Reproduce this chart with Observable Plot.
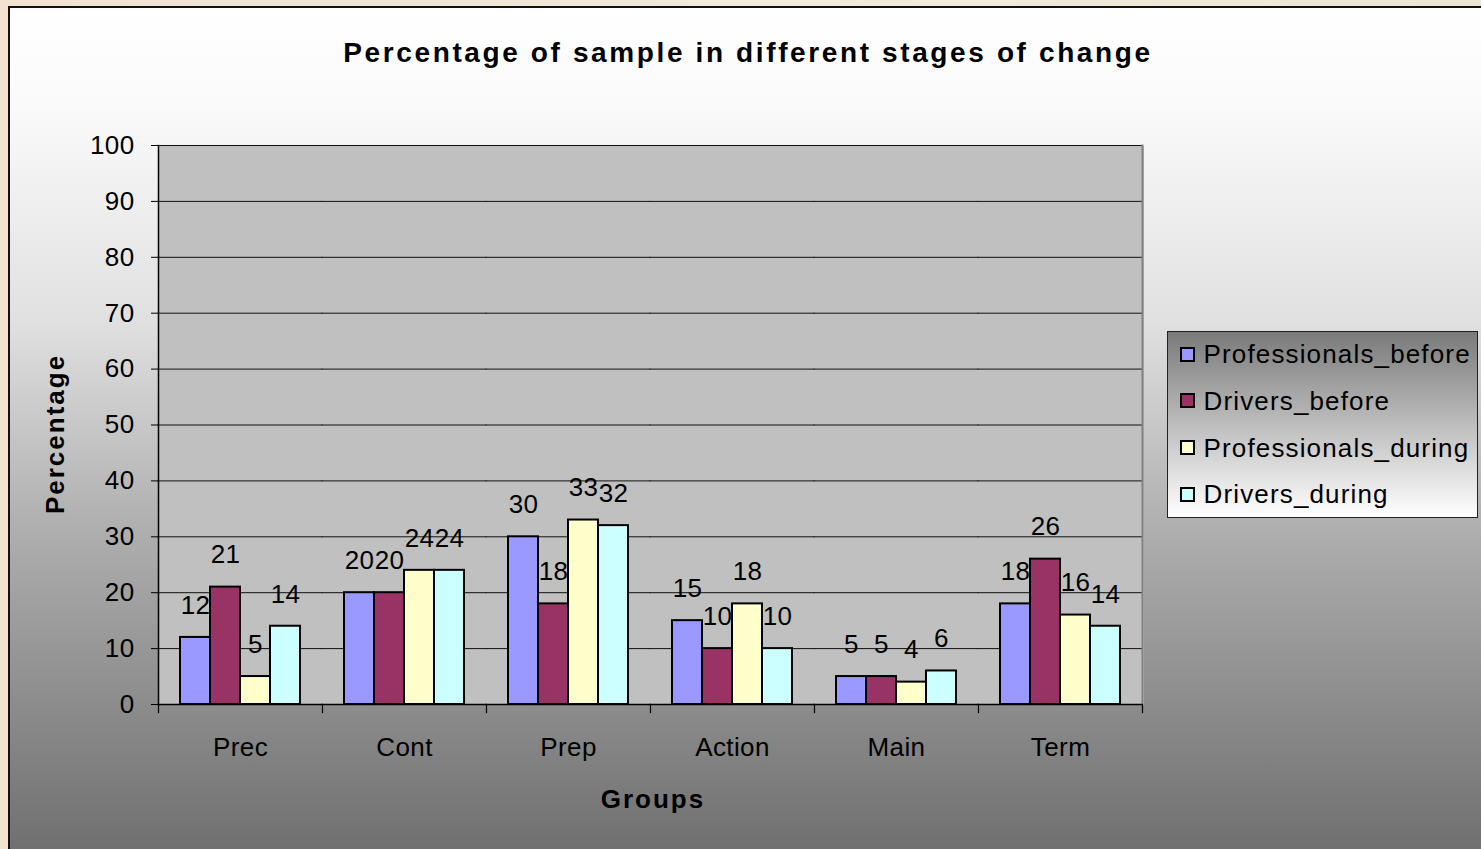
<!DOCTYPE html>
<html>
<head>
<meta charset="utf-8">
<script src="https://cdn.jsdelivr.net/npm/d3@7"></script>
<script src="https://cdn.jsdelivr.net/npm/@observablehq/plot@0.6"></script>
<style>
  html, body { margin: 0; padding: 0; width: 1481px; height: 849px; overflow: hidden; background: #f5e1cf; font-family: "Liberation Sans", Arial, sans-serif; }
  #topstrip { position: absolute; left: 0; top: 0; width: 1481px; height: 7px; background: linear-gradient(90deg, #f4e2d0 0%, #efe6d6 30%, #f2ebdc 60%, #ece5d2 100%); }
  #frame { position: absolute; left: 8px; top: 6px; width: 1480px; height: 850px; border-left: 2px solid #111; border-top: 2px solid #111;
    background: linear-gradient(180deg, #ffffff 0%, #fafafa 12%, #e0e0e0 37%, #b0b0b0 60.5%, #6e6e6e 100%); }
  #chart { position: absolute; left: 0; top: 0; }
  #title { position: absolute; left: 0; width: 1496px; top: 39px; text-align: center; font-weight: bold; font-size: 28px; line-height: 28px; letter-spacing: 2.62px; color: #000; white-space: nowrap; }
  #xtitle { position: absolute; left: 553px; width: 200px; top: 786px; text-align: center; font-weight: bold; font-size: 26px; line-height: 26px; letter-spacing: 2px; color: #000; }
  #ytitle { position: absolute; left: -45px; width: 200px; top: 421px; height: 26px; text-align: center; font-weight: bold; font-size: 26px; line-height: 26px; letter-spacing: 2px; color: #000; transform: rotate(-90deg); transform-origin: 50% 50%; }
  #legend { position: absolute; left: 1167px; top: 331px; width: 311px; height: 187px; box-sizing: border-box; border: 1.5px solid #222; background: linear-gradient(180deg, #7a7a7a 0%, #bdbdbd 50%, #ffffff 100%); }
  .lg-sw { position: absolute; width: 15px; height: 15px; box-sizing: border-box; border: 2px solid #000; }
  .lg-tx { position: absolute; font-size: 26px; line-height: 26px; letter-spacing: 1.15px; color: #000; white-space: nowrap; }
  #chart svg text { letter-spacing: 0.4px; }
</style>
</head>
<body>
<div id="topstrip"></div>
<div id="frame"></div>
<div id="chart"></div>
<div id="title">Percentage of sample in different stages of change</div>
<div id="xtitle">Groups</div>
<div id="ytitle">Percentage</div>
<div id="legend"></div>
<script>
// ---- Data ----
const groups = ["Prec", "Cont", "Prep", "Action", "Main", "Term"];
const series = ["Professionals_before", "Drivers_before", "Professionals_during", "Drivers_during"];
const professionalsBefore = [12, 20, 30, 15, 5, 18];
const driversBefore = [21, 20, 18, 10, 5, 26];
const professionalsDuring = [5, 24, 33, 18, 4, 16];
const driversDuring = [14, 24, 32, 10, 6, 14];
const yTicks = [0, 10, 20, 30, 40, 50, 60, 70, 80, 90, 100];
const colors = ["#9999ff", "#993366", "#ffffcc", "#ccffff"];

const seriesValues = [professionalsBefore, driversBefore, professionalsDuring, driversDuring];
const data = groups.flatMap((g, i) => series.map((s, j) => ({group: g, series: s, value: seriesValues[j][i]})));

// ---- Layout ----
const W = 1481, H = 849;
const mL = 157, mR = 339, mT = 145, mB = 145;
const plotH = H - mT - mB;
const firstG = groups[0], lastG = groups[groups.length - 1];

const chart = Plot.plot({
  width: W, height: H,
  marginLeft: mL, marginRight: mR, marginTop: mT, marginBottom: mB,
  style: {background: "none", fontFamily: "'Liberation Sans', Arial, sans-serif", overflow: "visible", color: "#000"},
  fx: {domain: groups, paddingInner: 0, paddingOuter: 0, label: null},
  x: {domain: series, paddingInner: 0, paddingOuter: 0.73, axis: null},
  y: {domain: [0, 100], label: null},
  color: {domain: series, range: colors},
  marks: [
    Plot.frame({fill: "#c0c0c0", insetLeft: -1, insetRight: -1, shapeRendering: "crispEdges"}),
    Plot.ruleY(yTicks, {stroke: "#111", strokeWidth: 1, insetLeft: -0.5, insetRight: -0.5}),
    Plot.frame({anchor: "right", stroke: "#808080", strokeWidth: 2, fx: () => lastG}),
    Plot.barY(data, {fx: "group", x: "series", y: "value", fill: "series", stroke: "#000", strokeWidth: 2}),
    Plot.text(data, {fx: "group", x: "series", y: "value", text: d => String(d.value), dy: -32, fontSize: 26, fill: "#000"}),
    Plot.ruleY([0], {stroke: "#000", strokeWidth: 1.5, insetLeft: -0.5, insetRight: -0.5}),
    Plot.frame({anchor: "left", stroke: "#000", strokeWidth: 1.5, fx: () => firstG}),
    Plot.frame({anchor: "left", stroke: "#000", strokeWidth: 1.2, insetTop: plotH, insetBottom: -8}),
    Plot.frame({anchor: "right", stroke: "#000", strokeWidth: 1.2, insetTop: plotH, insetBottom: -8, fx: () => lastG}),
    Plot.axisY({ticks: yTicks, tickSize: 7, tickPadding: 17, fontSize: 26, label: null, stroke: "#000", fill: "#000"}),
    Plot.axisFx({anchor: "bottom", tickSize: 0, tickPadding: 33, fontSize: 26, label: null, fill: "#000"})
  ]
});
document.getElementById("chart").appendChild(chart);

// ---- Legend ----
const legend = document.getElementById("legend");
const legendLeft = 1167, legendTop = 331;
series.forEach((s, i) => {
  const cy = 354.5 + i * 46.7;
  const sw = document.createElement("div");
  sw.className = "lg-sw";
  sw.style.left = (1180 - legendLeft - 1.5) + "px";
  sw.style.top = (cy - 7.5 - legendTop - 1.5) + "px";
  sw.style.background = colors[i];
  legend.appendChild(sw);
  const tx = document.createElement("div");
  tx.className = "lg-tx";
  tx.style.left = (1204 - legendLeft - 1.5) + "px";
  tx.style.top = (cy - 12.7 - legendTop - 1.5) + "px";
  tx.textContent = s;
  legend.appendChild(tx);
});
</script>
</body>
</html>
